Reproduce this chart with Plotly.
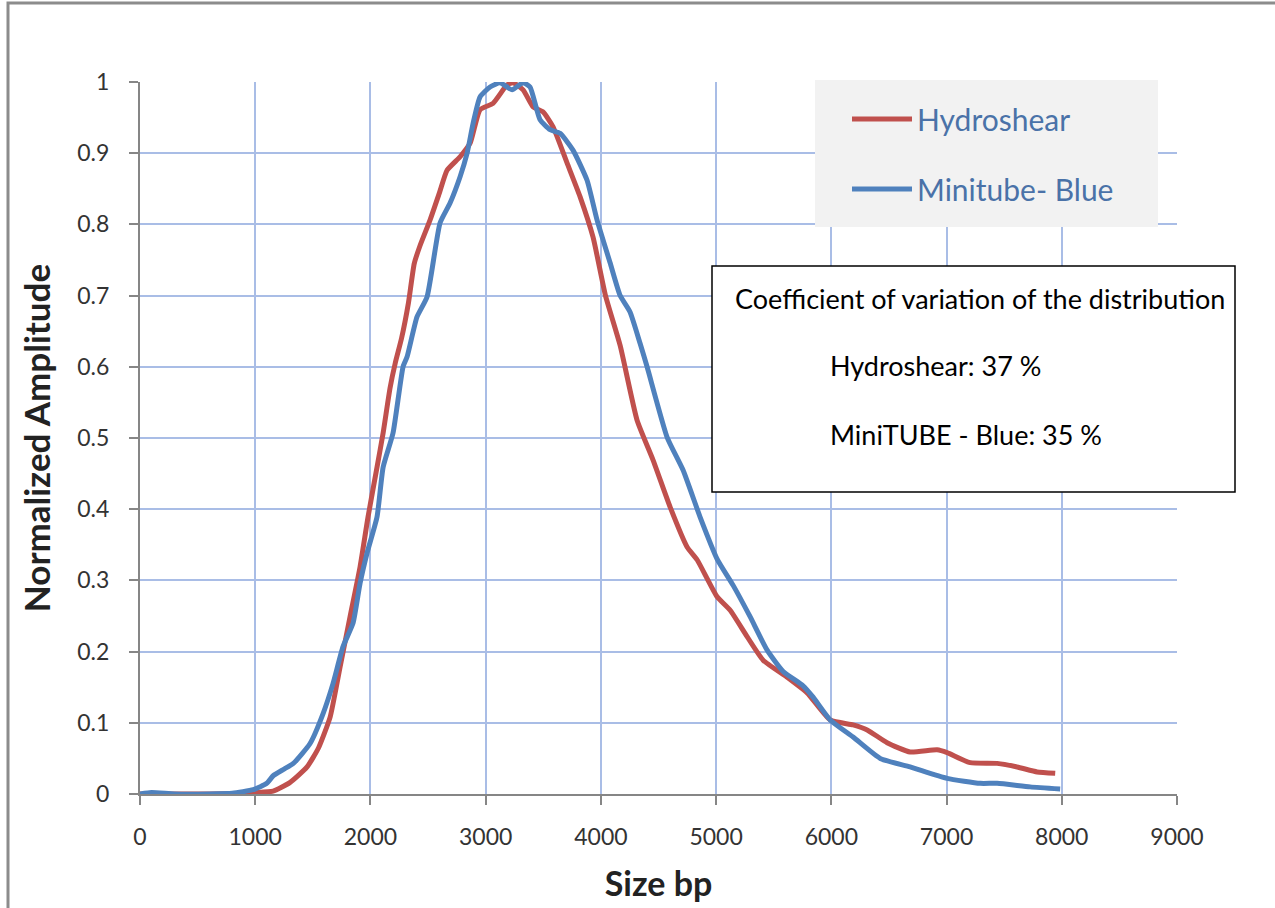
import plotly.graph_objects as go

# ---- data ----
hydro_x = [0, 300, 600, 900, 1000, 1155, 1300, 1450, 1550, 1650, 1736, 1823, 1910, 1979, 2057, 2110,
           2170, 2215, 2270, 2330, 2380, 2430, 2517, 2600, 2665, 2778, 2865, 2951, 3064, 3186, 3238, 3325,
           3412, 3498, 3585, 3707, 3819, 3932, 4040, 4167, 4314, 4453, 4601, 4748, 4835, 5009, 5122,
           5269, 5408, 5616, 5790, 5990, 6189, 6311, 6484, 6684, 6918, 7005, 7205, 7439, 7613, 7786, 7943]
hydro_y = [0, 0, 0, 0.001, 0.002, 0.004, 0.016, 0.038, 0.065, 0.108, 0.178, 0.249, 0.319, 0.389, 0.459, 0.507,
           0.570, 0.605, 0.64, 0.69, 0.745, 0.770, 0.806, 0.845, 0.876, 0.895, 0.914, 0.961, 0.970, 0.996, 0.999, 0.989,
           0.965, 0.958, 0.937, 0.886, 0.839, 0.782, 0.700, 0.630, 0.525, 0.469, 0.403, 0.347, 0.329, 0.277, 0.258,
           0.221, 0.188, 0.164, 0.142, 0.104, 0.097, 0.090, 0.072, 0.059, 0.062, 0.058, 0.044, 0.043, 0.038, 0.031, 0.029]

mini_x = [0, 100, 300, 600, 800, 983, 1100, 1158, 1250, 1331, 1476, 1589, 1675, 1762, 1849, 1910, 1970,
          2057, 2110, 2196, 2283, 2318, 2404, 2491, 2604, 2691, 2778, 2839, 2891, 2951, 3038, 3125, 3229,
          3325, 3385, 3472, 3559, 3646, 3759, 3880, 3967, 4080, 4167, 4253, 4340, 4401, 4575, 4713, 4861,
          5009, 5148, 5295, 5443, 5582, 5755, 5842, 5990, 6189, 6424, 6684, 7005, 7292, 7439, 7726, 7986]
mini_y = [0, 0.002, 0, 0, 0.001, 0.006, 0.015, 0.026, 0.035, 0.043, 0.071, 0.113, 0.155, 0.207, 0.240, 0.296, 0.338,
          0.389, 0.459, 0.507, 0.600, 0.614, 0.670, 0.698, 0.802, 0.830, 0.867, 0.900, 0.942, 0.979, 0.993, 0.999, 0.989,
          0.999, 0.993, 0.947, 0.933, 0.928, 0.904, 0.862, 0.806, 0.746, 0.700, 0.677, 0.633, 0.600, 0.501, 0.455, 0.389,
          0.330, 0.293, 0.249, 0.202, 0.172, 0.152, 0.136, 0.104, 0.080, 0.050, 0.038, 0.022, 0.015, 0.015, 0.010, 0.007]

series_names = ["Hydroshear", "Minitube- Blue"]
series_colors = ["#c0504d", "#4f81bd"]

x_ticks = list(range(0, 9001, 1000))
y_ticks = [round(i * 0.1, 1) for i in range(11)]

x_title = "Size bp"
y_title = "Normalized Amplitude"
box_lines = ["Coefficient of variation of the distribution",
             "Hydroshear: 37 %",
             "MiniTUBE - Blue: 35 %"]

FONT = "Lato, 'Open Sans', sans-serif"

fig = go.Figure()
for name, xs, ys, col in zip(series_names, [hydro_x, mini_x], [hydro_y, mini_y], series_colors):
    fig.add_trace(go.Scatter(
        x=xs, y=ys, mode="lines", name=name, legendgroup=name,
        line=dict(color=col, width=5, shape="spline", smoothing=0.5),
        cliponaxis=False,
    ))

# plot-area geometry in pixels (for paper conversions)
L, R, T, B = 140, 1177, 82, 794
W, H = R - L, B - T
def px(xp):
    return (xp - L) / W
def py(yp):
    return (B - yp) / H

shapes = [
    # outer frame
    dict(type="rect", xref="paper", yref="paper", x0=px(8), x1=px(1300), y0=py(930), y1=py(3),
         line=dict(color="#8c8c8c", width=3), fillcolor="rgba(0,0,0,0)", layer="below"),
    # legend background
    dict(type="rect", xref="paper", yref="paper", x0=px(815), x1=px(1158), y0=py(227), y1=py(80),
         line=dict(width=0), fillcolor="#f2f2f2", layer="above"),
    # annotation box
    dict(type="rect", xref="paper", yref="paper", x0=px(712), x1=px(1235), y0=py(492), y1=py(266),
         line=dict(color="#000000", width=1.5), fillcolor="#ffffff", layer="above"),
]

box_font = dict(family=FONT, size=27, color="#000000")
annotations = [
    dict(xref="paper", yref="paper", x=px(733), y=py(298), text=box_lines[0], showarrow=False,
         xanchor="left", yanchor="middle", font=box_font),
    dict(xref="paper", yref="paper", x=px(828), y=py(365), text=box_lines[1], showarrow=False,
         xanchor="left", yanchor="middle", font=box_font),
    dict(xref="paper", yref="paper", x=px(828), y=py(434), text=box_lines[2], showarrow=False,
         xanchor="left", yanchor="middle", font=box_font),
]

grid_col = "#a9bde6"
axis_col = "#868686"

fig.update_layout(
    width=1275, height=908,
    margin=dict(l=L, r=1275 - R, t=T, b=908 - B),
    paper_bgcolor="#ffffff", plot_bgcolor="#ffffff",
    font=dict(family=FONT, color="#333333"),
    shapes=shapes, annotations=annotations,
    showlegend=True,
    legend=dict(x=px(847), y=py(93), xanchor="left", yanchor="top",
                bgcolor="rgba(0,0,0,0)", borderwidth=0,
                font=dict(family=FONT, size=30, color="#4a72a8"),
                traceorder="grouped", tracegroupgap=28, itemwidth=60),
    xaxis=dict(range=[0, 9000], tickvals=x_ticks, ticktext=[str(v) for v in x_ticks],
               showgrid=True, gridcolor=grid_col, gridwidth=2,
               showline=True, linecolor=axis_col, linewidth=2, zeroline=False,
               ticks="outside", ticklen=9, tickwidth=2, tickcolor=axis_col,
               tickfont=dict(family=FONT, size=23, color="#333333"),
               ticklabelstandoff=12,
               title=dict(text="<b>" + x_title + "</b>", font=dict(family=FONT, size=34, color="#222222"),
                          standoff=24)),
    yaxis=dict(range=[0, 1], tickvals=y_ticks, ticktext=[("%g" % v) for v in y_ticks],
               showgrid=True, gridcolor=grid_col, gridwidth=2,
               showline=True, linecolor=axis_col, linewidth=2, zeroline=False,
               ticks="outside", ticklen=9, tickwidth=2, tickcolor=axis_col,
               tickfont=dict(family=FONT, size=23, color="#333333"),
               ticklabelstandoff=15,
               title=dict(text="<b>" + y_title + "</b>", font=dict(family=FONT, size=35, color="#222222"),
                          standoff=16)),
)

fig.write_html("out.html", config={"displayModeBar": False},
               post_script="document.body.style.margin='0';")
